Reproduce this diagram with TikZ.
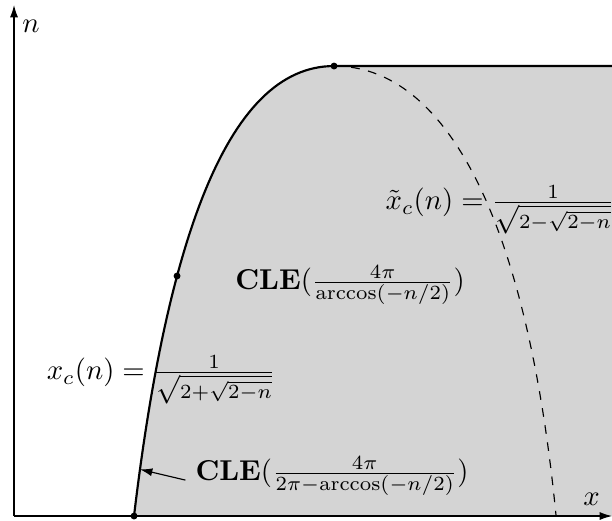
\documentclass[tikz,border=0pt]{standalone}
\usepackage{amsmath}
\usetikzlibrary{arrows.meta, positioning}

\begin{document}
\begin{tikzpicture}[
		x=1.04cm, y=1.04cm,
		>={Latex[length=4.3pt,width=2.8pt]},
		axis/.style={->, line width=0.4pt},
		crit/.style={line width=0.75pt},
		dual/.style={dashed, line width=0.4pt},
		phase/.style={fill=black!17},
		dot/.style={circle, fill, inner sep=0pt, minimum size=2.4pt},
	]
		% frame of the picture
		\path[use as bounding box, clip] (-0.165,-0.047) rectangle (7.035,6.071);

		% special points
		\coordinate (O) at (0,0);
		\coordinate (xend) at (7.035,0);
		\coordinate (nend) at (0,6.012);
		\coordinate (corner) at (7.2,5.294);
		\coordinate (hit) at (1.482,0.549);

		% dense region
		\fill[phase] plot[domain=0:1.41421, samples=60, variable=\s]
			({3.765-2.4686*\s+0.5915*\s*\s-0.0160*\s*\s*\s}, {5.294-2.647*\s*\s})
			-- (7.2,0) -- (corner) -- cycle;

		% dual curve
		\draw[dual] plot[domain=0:1.41421, samples=60, variable=\s]
			({3.765+2.7722*\s-0.5212*\s*\s-0.0940*\s*\s*\s}, {5.294-2.647*\s*\s});

		% axes
		\draw[axis] (O) -- (xend);
		\draw[axis] (O) -- (nend);
		\node[above left=0pt and 0.7pt of xend] (xlab) {$x$};
		\node[below right=1.6pt and -0.6pt of nend] (nlab) {$n$};

		% critical line
		\draw[crit] (corner) -- plot[domain=0:1.41421, samples=60, variable=\s]
			({3.765-2.4686*\s+0.5915*\s*\s-0.0160*\s*\s*\s}, {5.294-2.647*\s*\s});

		\node[dot] (saw) at (1.412,0) {};
		\node[dot] (ising) at (1.918,2.824) {};
		\node[dot] (top) at (3.765,5.294) {};

		% labels
		\node (xclab) at (1.729,1.60) {$x_c(n) = \frac{1}{\sqrt{2+\sqrt{2-n}}}$};
		\node[anchor=west, inner sep=0pt] (xtlab) at (4.365,3.60) {$\tilde{x}_c(n) = \frac{1}{\sqrt{2-\sqrt{2-n}}}$};
		\node (dense) at (3.953,2.72) {$\mathbf{CLE}(\frac{4\pi}{\arccos(-n/2)})$};
		\node (dilute) at (3.741,0.47) {$\mathbf{CLE}(\frac{4\pi}{2\pi-\arccos(-n/2)})$};
		\draw[->] ([yshift=-1.4pt]dilute.west) -- (hit);
	\end{tikzpicture}
\end{document}
